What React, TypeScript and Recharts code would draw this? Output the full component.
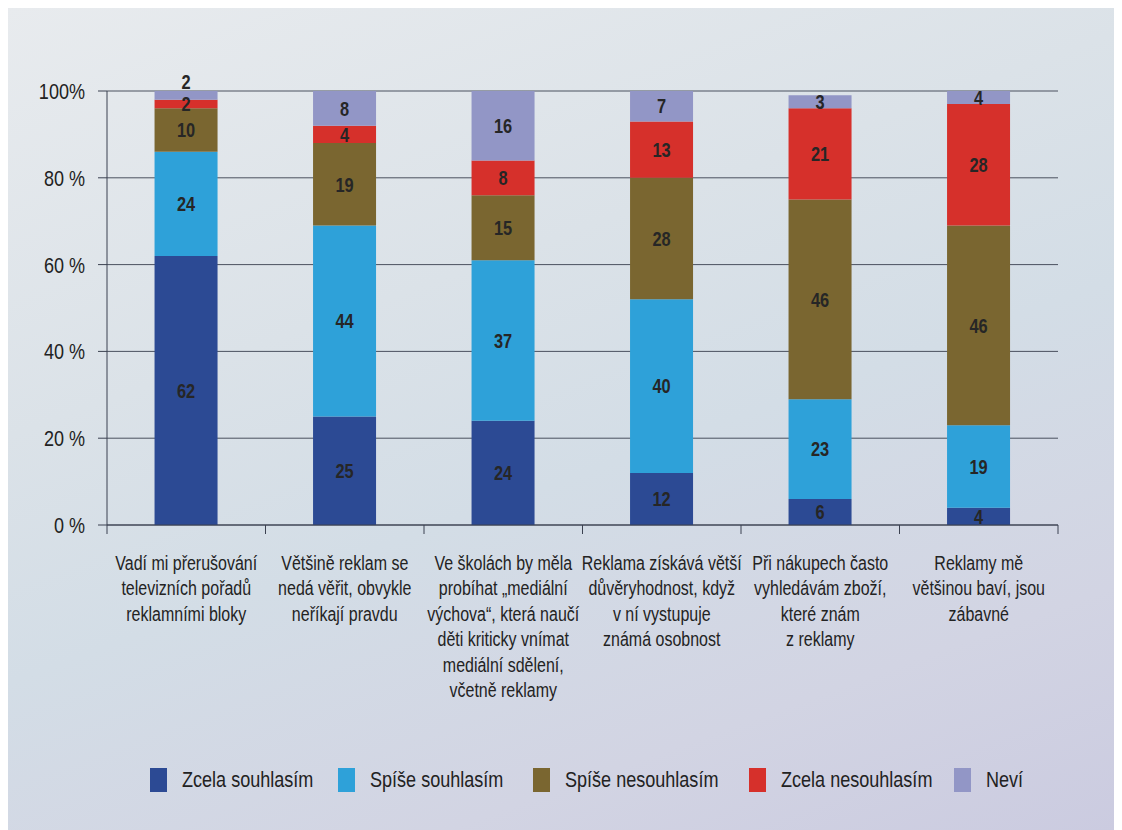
import React from "react";
import {
  Bar, BarChart, CartesianGrid, LabelList, Legend, XAxis, YAxis
} from "recharts";

const categories = [
  "Vadí mi přerušování televizních pořadů reklamními bloky",
  "Většině reklam se nedá věřit, obvykle neříkají pravdu",
  "Ve školách by měla probíhat „mediální výchova“, která naučí děti kriticky vnímat mediální sdělení, včetně reklamy",
  "Reklama získává větší důvěryhodnost, když v ní vystupuje známá osobnost",
  "Při nákupech často vyhledávám zboží, které znám z reklamy",
  "Reklamy mě většinou baví, jsou zábavné",
];
const categoryLines = [
  ["Vadí mi přerušování", "televizních pořadů", "reklamními bloky"],
  ["Většině reklam se", "nedá věřit, obvykle", "neříkají pravdu"],
  ["Ve školách by měla", "probíhat „mediální", "výchova“, která naučí", "děti kriticky vnímat", "mediální sdělení,", "včetně reklamy"],
  ["Reklama získává větší", "důvěryhodnost, když", "v ní vystupuje", "známá osobnost"],
  ["Při nákupech často", "vyhledávám zboží,", "které znám", "z reklamy"],
  ["Reklamy mě", "většinou baví, jsou", "zábavné"],
];

const zcelaSouhlasim = [62, 25, 24, 12, 6, 4];
const spiseSouhlasim = [24, 44, 37, 40, 23, 19];
const spiseNesouhlasim = [10, 19, 15, 28, 46, 46];
const zcelaNesouhlasim = [2, 4, 8, 13, 21, 28];
const nevi = [2, 8, 16, 7, 3, 4];

const seriesNames = ["Zcela souhlasím", "Spíše souhlasím", "Spíše nesouhlasím", "Zcela nesouhlasím", "Neví"];
const seriesKeys = ["zs", "ss", "sn", "zn", "nv"];
const colors = ["#2c4a94", "#2ea1d9", "#7a6630", "#d6302b", "#9296c6"];

const yTicks = [0, 20, 40, 60, 80, 100];
const yTickLabels = ["0 %", "20 %", "40 %", "60 %", "80 %", "100%"];

const data = categories.map((name, i) => ({
  name,
  zs: zcelaSouhlasim[i],
  ss: spiseSouhlasim[i],
  sn: spiseNesouhlasim[i],
  zn: zcelaNesouhlasim[i],
  nv: nevi[i],
}));

// no condensed face installed, so squeeze Liberation Sans horizontally
const font = "'Liberation Sans', Arial, sans-serif";
const squeeze = 0.82;
const lineColor = "#3b4150";
const legendLefts = [142, 330, 525, 741, 946];

function CategoryTick(props: any) {
  const { x, y, payload } = props;
  const idx = categories.indexOf(payload.value);
  const off = payload.offset ?? 79;
  const lines = categoryLines[idx] || [];
  return (
    <g>
      <line x1={x - off} y1={y} x2={x - off} y2={y + 9} stroke={lineColor} />
      {idx === categories.length - 1 && (
        <line x1={x + off} y1={y} x2={x + off} y2={y + 9} stroke={lineColor} />
      )}
      <g transform={`translate(${x} ${y + 45}) scale(${squeeze} 1)`}>
        <text x={0} y={0} textAnchor="middle" fontFamily={font} fontSize={19.5} fill="#232323">
          {lines.map((l, k) => (
            <tspan key={k} x={0} dy={k === 0 ? 0 : 25.5}>{l}</tspan>
          ))}
        </text>
      </g>
    </g>
  );
}

function PercentTick(props: any) {
  const { x, y, payload } = props;
  return (
    <g transform={`translate(${x} ${y}) scale(${squeeze} 1)`}>
      <text x={0} y={0} dy="0.36em" textAnchor="end" fontFamily={font} fontSize={22} fill="#222">
        {yTickLabels[yTicks.indexOf(payload.value)]}
      </text>
    </g>
  );
}

function renderValue(p: any, above: boolean) {
  const { x, y, width, height, value } = p;
  const cy = above && height < 10 ? y - 9 : y + height / 2;
  return (
    <g transform={`translate(${x + width / 2} ${cy}) scale(${squeeze} 1)`}>
      <text x={0} y={0} dy="0.36em" textAnchor="middle"
        fontFamily={font} fontWeight="bold" fontSize={20} fill="#262626">
        {value}
      </text>
    </g>
  );
}

function LegendBox() {
  return (
    <div style={{ position: "relative", height: 26, fontFamily: font, fontSize: 22, color: "#222" }}>
      {seriesNames.map((n, i) => (
        <div key={n} style={{ position: "absolute", left: legendLefts[i], top: 0, height: 26,
          display: "flex", alignItems: "center", whiteSpace: "nowrap" }}>
          <span style={{ display: "inline-block", width: 17, height: 24, background: colors[i], marginRight: 15 }} />
          <span style={{ display: "inline-block", transform: `scaleX(${squeeze})`, transformOrigin: "left center" }}>{n}</span>
        </div>
      ))}
    </div>
  );
}

export default function App() {
  return (
    <div style={{
      width: 1114, height: 824, marginTop: -2,
      background: "linear-gradient(160deg, #e8ebee 0%, #dbe2e8 35%, #d3dde6 55%, #d2d4e3 80%, #cbcbe0 100%)",
    }}>
      <BarChart
        width={1114}
        height={822}
        data={data}
        barCategoryGap="30%"
        margin={{ top: 85, right: 64, left: 0, bottom: 10 }}
      >
        <CartesianGrid vertical={false} stroke={lineColor} strokeOpacity={0.9} />
        <XAxis
          dataKey="name"
          height={267}
          interval={0}
          tickLine={false}
          tickSize={0}
          tickMargin={0}
          axisLine={{ stroke: lineColor }}
          tick={<CategoryTick />}
        />
        <YAxis
          domain={[0, 100]}
          allowDataOverflow
          ticks={yTicks}
          width={99}
          tickSize={9}
          tickMargin={13}
          tickLine={{ stroke: lineColor }}
          axisLine={{ stroke: lineColor }}
          tick={<PercentTick />}
        />
        <YAxis
          yAxisId="right"
          orientation="right"
          domain={[0, 100]}
          width={0}
          tick={false}
          tickLine={false}
          axisLine={{ stroke: lineColor }}
        />
        <Legend
          verticalAlign="bottom"
          content={() => <LegendBox />}
          wrapperStyle={{ left: 0, top: 761, bottom: "auto", width: 1114 }}
        />
        {seriesKeys.map((k, i) => (
          <Bar key={k} dataKey={k} name={seriesNames[i]} stackId="a" fill={colors[i]} isAnimationActive={false}>
            <LabelList dataKey={k} content={(p: any) => renderValue(p, k === "nv")} />
          </Bar>
        ))}
      </BarChart>
    </div>
  );
}
